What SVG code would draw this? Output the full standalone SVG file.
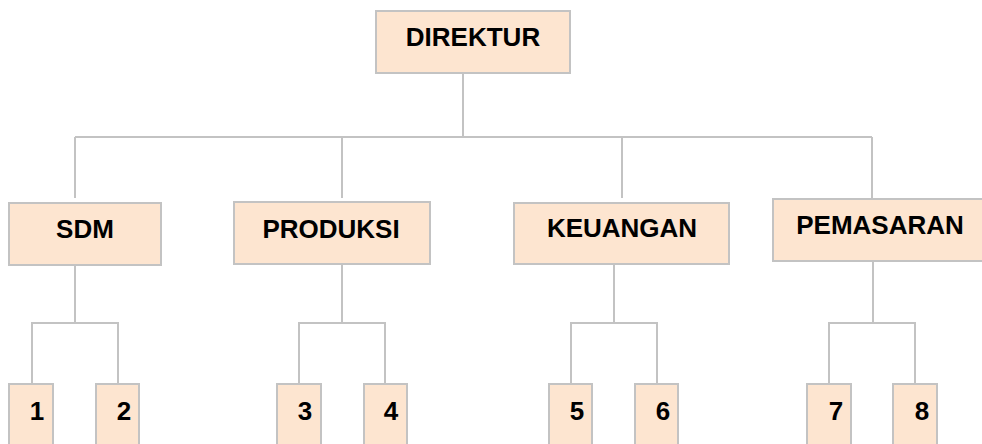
<svg xmlns="http://www.w3.org/2000/svg" width="982" height="444" viewBox="0 0 982 444">
<style>
.box{fill:#fde5d0;stroke:#c3c3c3;stroke-width:2}
.lbl{font-family:"Liberation Sans",Arial,sans-serif;font-weight:bold;font-size:26px;fill:#000;text-anchor:middle}
.con{fill:none;stroke:#c3c3c3;stroke-width:2}
</style>
<rect width="982" height="444" fill="#fff"/>
<g id="connectors">
<path class="con" d="M463 73V137M75 137H872M75 137V198M342 137V198M622 137V198M872 137V198"/>
<path class="con" d="M75 262V323M32 384V323H118V384"/>
<path class="con" d="M342 262V323M299 384V323H385V384"/>
<path class="con" d="M614 262V323M571 384V323H657V384"/>
<path class="con" d="M873 259V323M829 384V323H915V384"/>
</g>
<g id="direktur"><rect class="box" x="376" y="11" width="194" height="62"/><text class="lbl" x="473" y="46">DIREKTUR</text></g>
<g id="sdm"><rect class="box" x="9" y="203" width="152" height="62"/><text class="lbl" x="85" y="238">SDM</text></g>
<g id="produksi"><rect class="box" x="234" y="202" width="196" height="62"/><text class="lbl" x="331" y="238">PRODUKSI</text></g>
<g id="keuangan"><rect class="box" x="514" y="203" width="215" height="61"/><text class="lbl" x="622" y="237">KEUANGAN</text></g>
<g id="pemasaran"><rect class="box" x="773" y="199" width="215" height="62"/><text class="lbl" x="880" y="234">PEMASARAN</text></g>
<g id="n1"><rect class="box" x="9" y="384" width="44" height="70"/><text class="lbl" x="37" y="420">1</text></g>
<g id="n2"><rect class="box" x="96" y="384" width="43" height="70"/><text class="lbl" x="124" y="420">2</text></g>
<g id="n3"><rect class="box" x="277" y="384" width="44" height="70"/><text class="lbl" x="305" y="420">3</text></g>
<g id="n4"><rect class="box" x="364" y="384" width="43" height="70"/><text class="lbl" x="391" y="420">4</text></g>
<g id="n5"><rect class="box" x="549" y="384" width="43" height="70"/><text class="lbl" x="577" y="420">5</text></g>
<g id="n6"><rect class="box" x="635" y="384" width="43" height="70"/><text class="lbl" x="663" y="420">6</text></g>
<g id="n7"><rect class="box" x="807" y="384" width="44" height="70"/><text class="lbl" x="836" y="420">7</text></g>
<g id="n8"><rect class="box" x="893" y="384" width="44" height="70"/><text class="lbl" x="922" y="420">8</text></g>
</svg>
